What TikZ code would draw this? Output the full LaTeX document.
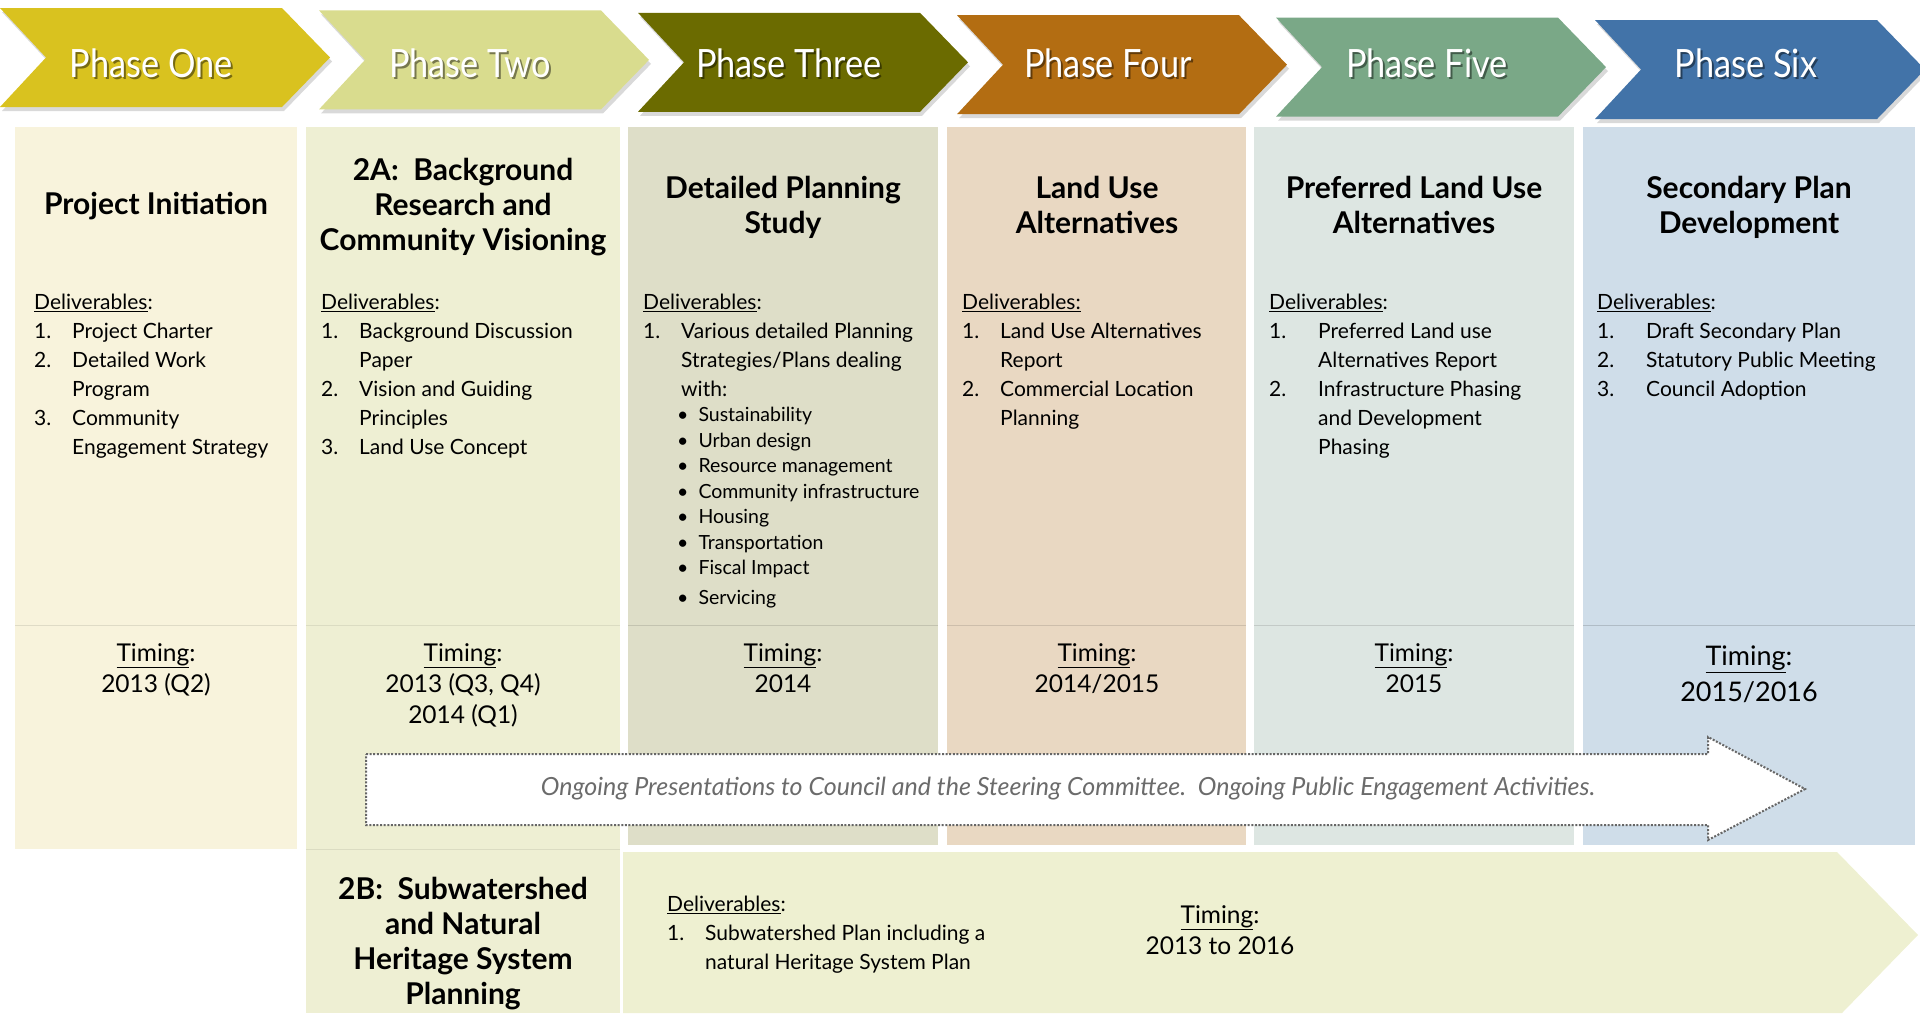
\documentclass[tikz,border=0pt]{standalone}
\usepackage{fontspec}
\setmainfont{Lato}
\newfontfamily\chevfont[FakeStretch=0.88]{Lato}
\usetikzlibrary{shadows}

\definecolor{phaseone}{RGB}{217,194,31}
\definecolor{phasetwo}{RGB}{217,220,142}
\definecolor{phasethree}{RGB}{107,107,0}
\definecolor{phasefour}{RGB}{179,109,18}
\definecolor{phasefive}{RGB}{122,168,135}
\definecolor{phasesix}{RGB}{66,115,168}
\definecolor{colone}{RGB}{248,243,220}
\definecolor{coltwo}{RGB}{238,239,211}
\definecolor{colthree}{RGB}{222,222,200}
\definecolor{colfour}{RGB}{233,216,194}
\definecolor{colfive}{RGB}{221,230,226}
\definecolor{colsix}{RGB}{207,221,233}
\definecolor{bandtwob}{RGB}{238,240,209}

\newcommand{\itm}[1]{\makebox[38pt][l]{#1}}
\newcommand{\itw}[1]{\makebox[49pt][l]{#1}}
\newcommand{\dlv}{\underline{Deliverables}:}
\newcommand{\tmg}{\underline{Timing}:}

\begin{document}
\begin{tikzpicture}[x=1pt,y=-1pt,
  chevlabel/.style={text=white,font=\chevfont\fontsize{39}{40}\selectfont,anchor=base},
  chevshade/.style={text=black,opacity=.45,font=\chevfont\fontsize{39}{40}\selectfont,anchor=base},
  heading/.style={font=\bfseries\fontsize{30}{35}\selectfont,align=center,anchor=north,inner sep=0},
  dlist/.style={font=\fontsize{21}{29}\selectfont,align=left,anchor=north west,inner sep=0},
  blist/.style={font=\fontsize{19.5}{25.5}\selectfont,align=left,anchor=north west,inner sep=0},
  timing/.style={font=\fontsize{24.5}{31}\selectfont,align=center,anchor=north,inner sep=0}]

\useasboundingbox (0,0) rectangle (1920,1013);

% phase banner
\foreach \i/\c/\txt in {0/phaseone/Phase One,1/phasetwo/Phase Two,2/phasethree/Phase Three,
    3/phasefour/Phase Four,4/phasefive/Phase Five,5/phasesix/Phase Six}{
  \pgfmathsetmacro{\lx}{319*\i}
  \pgfmathsetmacro{\ty}{8+2.4*\i}
  \fill[\c,drop shadow={shadow xshift=2pt,shadow yshift=-4pt,opacity=.3}]
    (\lx,\ty) -- ++(282,0) -- ++(48,49.5) -- ++(-48,49.5) -- ++(-282,0) -- ++(46,-49.5) -- cycle;
  \node[chevshade] (sh\i) at (\lx+153,79) {\txt};
  \node[chevlabel] (ph\i) at (\lx+151,77) {\txt};
}

% columns
\fill[colone] (15,127) rectangle (297,849);
\fill[coltwo] (306,127) rectangle (620,1013);
\fill[colthree] (628,127) rectangle (938,845);
\fill[colfour] (947,127) rectangle (1246,845);
\fill[colfive] (1254,127) rectangle (1574,845);
\fill[colsix] (1583,127) rectangle (1915,845);
\fill[bandtwob] (623,852) -- (1837,852) -- (1918,935) -- (1842,1013) -- (623,1013) -- cycle;

\draw[colone!90!black] (15,625) -- (297,625);
\draw[coltwo!92!black] (306,625) -- (620,625);
\draw[coltwo!92!black] (306,849) -- (620,849);
\draw[colthree!88!black] (628,625) -- (938,625);
\draw[colfour!88!black] (947,625) -- (1246,625);
\draw[colfive!88!black] (1254,625) -- (1574,625);
\draw[colsix!85!black] (1583,625) -- (1915,625);

% headings
\node[heading] (h1) at (156,192) {Project Initiation};
\node[heading] (h2) at (463,158) {2A:\ \ Background\\Research and\\Community Visioning};
\node[heading] (h3) at (783,176) {Detailed Planning\\Study};
\node[heading] (h4) at (1097,176) {Land Use\\Alternatives};
\node[heading] (h5) at (1414,176) {Preferred Land Use\\Alternatives};
\node[heading] (h6) at (1749,176) {Secondary Plan\\Development};

% deliverables
\node[dlist] (d1) at (34,294) {\dlv\\\itm{1.}Project Charter\\\itm{2.}Detailed Work\\\itm{}Program\\
  \itm{3.}Community\\\itm{}Engagement Strategy};
\node[dlist] (d2) at (321,294) {\dlv\\\itm{1.}Background Discussion\\\itm{}Paper\\\itm{2.}Vision and Guiding\\
  \itm{}Principles\\\itm{3.}Land Use Concept};
\node[dlist] (d3) at (643,294) {\dlv\\\itm{1.}Various detailed Planning\\\itm{}Strategies/Plans dealing\\\itm{}with:};
\node[blist] (b3) at (677,407) {\textbullet\ \ Sustainability\\\textbullet\ \ Urban design\\
  \textbullet\ \ Resource management\\\textbullet\ \ Community infrastructure\\\textbullet\ \ Housing\\
  \textbullet\ \ Transportation\\\textbullet\ \ Fiscal Impact\\[4pt]\textbullet\ \ Servicing};
\node[dlist] (d4) at (962,294) {\underline{Deliverables:}\\\itm{1.}Land Use Alternatives\\\itm{}Report\\
  \itm{2.}Commercial Location\\\itm{}Planning};
\node[dlist] (d5) at (1269,294) {\dlv\\\itw{1.}Preferred Land use\\\itw{}Alternatives Report\\
  \itw{2.}Infrastructure Phasing\\\itw{}and Development\\\itw{}Phasing};
\node[dlist] (d6) at (1597,294) {\dlv\\\itw{1.}Draft Secondary Plan\\\itw{2.}Statutory Public Meeting\\
  \itw{3.}Council Adoption};

% timing
\node[timing] (t1) at (156,643) {\tmg\\2013 (Q2)};
\node[timing] (t2) at (463,643) {\tmg\\2013 (Q3, Q4)\\2014 (Q1)};
\node[timing] (t3) at (783,643) {\tmg\\2014};
\node[timing] (t4) at (1097,643) {\tmg\\2014/2015};
\node[timing] (t5) at (1414,643) {\tmg\\2015};
\node[timing,font=\fontsize{27}{36}\selectfont] (t6) at (1749,646) {\tmg\\2015/2016};

% ongoing arrow
\draw[black!60,line width=2pt,dash pattern=on 2pt off 1.6pt,fill=white]
  (366,754) -- (1708,754) -- (1708,737) -- (1805,789) -- (1708,840) -- (1708,825) -- (366,825) -- cycle;
\node[font=\itshape\fontsize{25}{28}\selectfont,text=black!58] (ongoing) at (1068,789)
  {Ongoing Presentations to Council and the Steering Committee.\ \ Ongoing Public Engagement Activities.};

% 2B band
\node[heading] (h2b) at (463,877) {2B:\ \ Subwatershed\\and Natural\\Heritage System\\Planning};
\node[dlist] (d2b) at (667,896) {\dlv\\\itm{1.}Subwatershed Plan including a\\\itm{}natural Heritage System Plan};
\node[timing] (t2b) at (1220,905) {\tmg\\2013 to 2016};
\end{tikzpicture}
\end{document}
